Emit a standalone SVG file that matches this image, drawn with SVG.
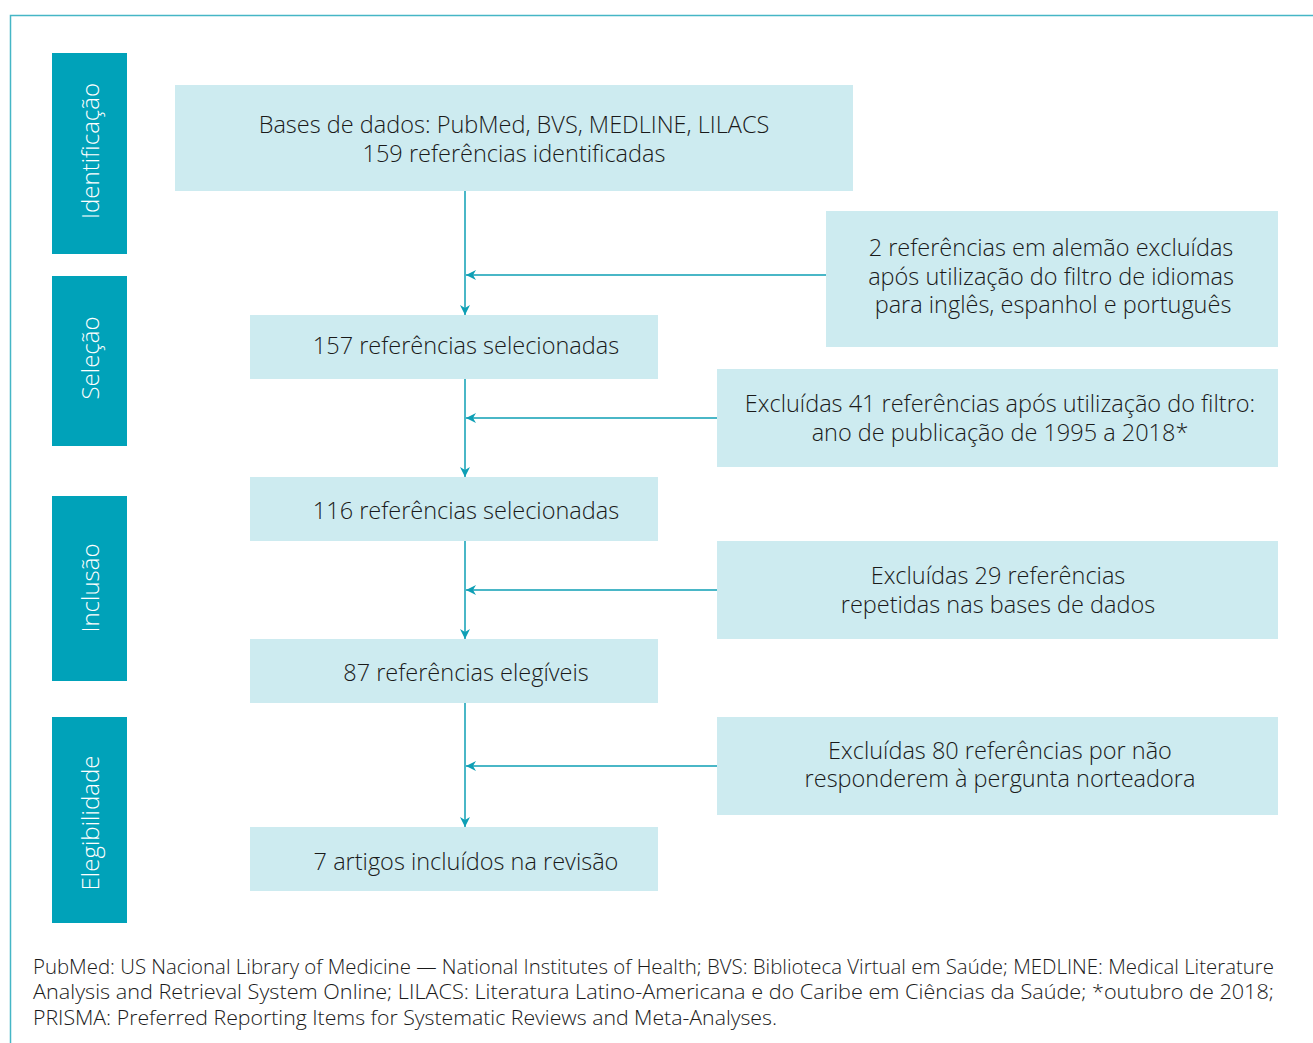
<svg xmlns="http://www.w3.org/2000/svg" width="1313" height="1043" viewBox="0 0 1313 1043">
<defs>
<style>
.frame{fill:none;stroke:#45b6c6;stroke-width:1.5}
.bar{fill:#00a2b9}
.box{fill:#cdebf0}
.t{font-family:"Open Sans","Noto Sans",sans-serif;font-weight:300;font-size:23.5px;fill:#1a1a1a;text-anchor:middle}
.lab{font-family:"Open Sans","Noto Sans",sans-serif;font-weight:300;font-size:24px;fill:#ffffff;text-anchor:middle}
.foot{font-family:"Open Sans","Noto Sans",sans-serif;font-weight:300;font-size:20.5px;fill:#1a1a1a}
.ln{stroke:#0e9fb5;stroke-width:1.5;fill:none}
</style>
<marker id="ah" viewBox="0 0 10 10" refX="10" refY="5" markerWidth="10" markerHeight="10" markerUnits="userSpaceOnUse" orient="auto">
<path d="M0,0 L10,5 L0,10 L3,5 Z" fill="#0e9fb5"/>
</marker>
</defs>
<rect width="1313" height="1043" fill="#ffffff"/>
<path class="frame" d="M10.5,1043 V15.5 H1313"/>

<g id="stage-identificacao"><rect class="bar" x="52" y="53" width="75" height="201"/><text class="lab" transform="translate(99,151) rotate(-90)">Identificação</text></g>
<g id="stage-selecao"><rect class="bar" x="52" y="276" width="75" height="170"/><text class="lab" transform="translate(99,358) rotate(-90)">Seleção</text></g>
<g id="stage-inclusao"><rect class="bar" x="52" y="496" width="75" height="185"/><text class="lab" transform="translate(99,588) rotate(-90)">Inclusão</text></g>
<g id="stage-elegibilidade"><rect class="bar" x="52" y="717" width="75" height="206"/><text class="lab" transform="translate(99,823) rotate(-90)">Elegibilidade</text></g>

<g id="connectors">
<line class="ln" x1="465" y1="191" x2="465" y2="315" marker-end="url(#ah)"/>
<line class="ln" x1="465" y1="379" x2="465" y2="477" marker-end="url(#ah)"/>
<line class="ln" x1="465" y1="541" x2="465" y2="639" marker-end="url(#ah)"/>
<line class="ln" x1="465" y1="703" x2="465" y2="827" marker-end="url(#ah)"/>
<line class="ln" x1="826" y1="275" x2="466" y2="275" marker-end="url(#ah)"/>
<line class="ln" x1="717" y1="418" x2="466" y2="418" marker-end="url(#ah)"/>
<line class="ln" x1="717" y1="590" x2="466" y2="590" marker-end="url(#ah)"/>
<line class="ln" x1="717" y1="766" x2="466" y2="766" marker-end="url(#ah)"/>
</g>

<g id="n-bases"><rect class="box" x="175" y="85" width="678" height="106"/><text class="t" x="514" y="133">Bases de dados: PubMed, BVS, MEDLINE, LILACS</text><text class="t" x="514" y="162">159 referências identificadas</text></g>
<g id="n-excl-idioma"><rect class="box" x="826" y="211" width="452" height="136"/><text class="t" x="1051" y="256">2 referências em alemão excluídas</text><text class="t" x="1051" y="285">após utilização do filtro de idiomas</text><text class="t" x="1053" y="313">para inglês, espanhol e português</text></g>
<g id="n-157"><rect class="box" x="250" y="315" width="408" height="64"/><text class="t" x="466" y="354">157 referências selecionadas</text></g>
<g id="n-excl-ano"><rect class="box" x="717" y="369" width="561" height="98"/><text class="t" x="1000" y="412">Excluídas 41 referências após utilização do filtro:</text><text class="t" x="1000" y="441">ano de publicação de 1995 a 2018*</text></g>
<g id="n-116"><rect class="box" x="250" y="477" width="408" height="64"/><text class="t" x="466" y="519">116 referências selecionadas</text></g>
<g id="n-excl-rep"><rect class="box" x="717" y="541" width="561" height="98"/><text class="t" x="998" y="584">Excluídas 29 referências</text><text class="t" x="998" y="613">repetidas nas bases de dados</text></g>
<g id="n-87"><rect class="box" x="250" y="639" width="408" height="64"/><text class="t" x="466" y="681">87 referências elegíveis</text></g>
<g id="n-excl-perg"><rect class="box" x="717" y="717" width="561" height="98"/><text class="t" x="1000" y="759">Excluídas 80 referências por não</text><text class="t" x="1000" y="787">responderem à pergunta norteadora</text></g>
<g id="n-7"><rect class="box" x="250" y="827" width="408" height="64"/><text class="t" x="466" y="870">7 artigos incluídos na revisão</text></g>

<g id="footnote">
<text class="foot" x="33" y="974" textLength="1241" lengthAdjust="spacingAndGlyphs">PubMed: US Nacional Library of Medicine — National Institutes of Health; BVS: Biblioteca Virtual em Saúde; MEDLINE: Medical Literature</text>
<text class="foot" x="33" y="999" textLength="1241" lengthAdjust="spacingAndGlyphs">Analysis and Retrieval System Online; LILACS: Literatura Latino-Americana e do Caribe em Ciências da Saúde; *outubro de 2018;</text>
<text class="foot" x="33" y="1025" textLength="744" lengthAdjust="spacingAndGlyphs">PRISMA: Preferred Reporting Items for Systematic Reviews and Meta-Analyses.</text>
</g>
</svg>
